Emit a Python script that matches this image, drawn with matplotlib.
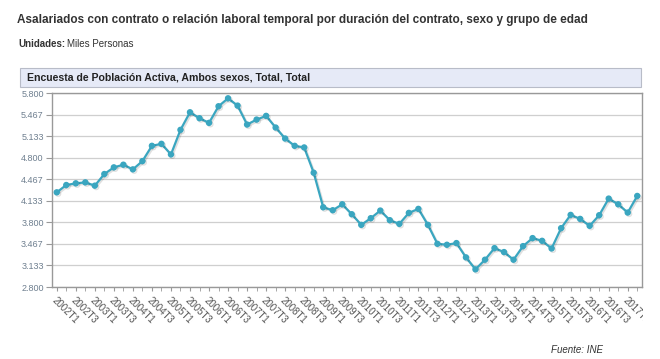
import matplotlib
matplotlib.use("Agg")
import matplotlib.pyplot as plt
import matplotlib.patheffects as pe
from matplotlib.patches import FancyBboxPatch
from matplotlib.transforms import Bbox

plt.rcParams["font.family"] = ["Liberation Sans", "DejaVu Sans"]

# quarterly periods 2002T1 .. 2017T2
periods = [f"{y}T{q}" for y in range(2002, 2018) for q in range(1, 5)][:62]
values = [
    4.264, 4.377, 4.403, 4.418, 4.367, 4.547, 4.650, 4.691, 4.619, 4.747,
    4.983, 5.014, 4.850, 5.230, 5.502, 5.410, 5.338, 5.595, 5.718, 5.605,
    5.312, 5.389, 5.446, 5.266, 5.096, 4.983, 4.958, 4.567, 4.033, 3.987,
    4.079, 3.925, 3.761, 3.864, 3.982, 3.833, 3.776, 3.946, 4.008, 3.761,
    3.468, 3.453, 3.479, 3.258, 3.073, 3.222, 3.401, 3.340, 3.222, 3.432,
    3.556, 3.514, 3.396, 3.710, 3.915, 3.853, 3.746, 3.910, 4.167, 4.079,
    3.951, 4.208,
]
y_ticks = [2.800, 3.133, 3.467, 3.800, 4.133, 4.467, 4.800, 5.133, 5.467, 5.800]
y_labels = ["2.800", "3.133", "3.467", "3.800", "4.133", "4.467", "4.800", "5.133", "5.467", "5.800"]

W, H = 660, 359
fig = plt.figure(figsize=(W / 100, H / 100), dpi=100)
fig.patch.set_facecolor("white")

# axes placed in pixel coords
left, right, top, bottom = 52, 642, 93, 287
ax = fig.add_axes([left / W, 1 - bottom / H, (right - left) / W, (bottom - top) / H])

x = list(range(len(values)))
ax.plot(x, values, color="#3aa6c0", lw=1.6, marker="o", ms=3.6, mec="#3aa6c0", mfc="#3aa6c0",
        zorder=3,
        path_effects=[pe.SimpleLineShadow(offset=(1, -1), shadow_color="#000000", alpha=0.12), pe.Normal()])

ax.set_xlim(-0.5, len(values) - 0.5)
ax.set_ylim(2.8, 5.8)
ax.set_yticks(y_ticks)
ax.set_yticklabels(y_labels)
ax.grid(axis="y", color="#cfcfcf", lw=0.9)
ax.set_axisbelow(True)

ax.set_xticks(x[::2])
ax.set_xticklabels(periods[::2], rotation=-45, ha="left", va="top", rotation_mode="anchor")
ax.set_xticks(x, minor=True)
ax.tick_params(axis="x", which="both", length=3, color="#999999", labelsize=7, labelcolor="#555555", pad=3)
ax.tick_params(axis="y", length=4, color="#999999", labelsize=6.5, labelcolor="#6e7f8f", pad=2)
for s in ax.spines.values():
    s.set_color("#999999")
    s.set_linewidth(1.0)

# labels past the chart frame are cut off, as in the source widget
clip = Bbox.from_extents(0, 0, 643, H)
for lab in ax.get_xticklabels():
    lab.set_clip_on(True)
    lab.set_clip_box(clip)

# titles
fig.text(17 / W, 1 - 20 / H, "Asalariados con contrato o relación laboral temporal por duración del contrato, sexo y grupo de edad",
         fontsize=8.5, fontweight="bold", color="#333333", va="center", ha="left")
fig.text(18 / W, 1 - 44 / H, "Unidades:", fontsize=7, fontweight="bold", color="#333333", va="center", ha="left")
fig.text(67 / W, 1 - 44 / H, "Miles Personas", fontsize=7, color="#333333", va="center", ha="left")

# header box
box = FancyBboxPatch((20 / W, 1 - 87 / H), (641 - 20) / W, 19 / H, boxstyle="square,pad=0",
                     transform=fig.transFigure, facecolor="#e6eaf7", edgecolor="#b8bcc8", lw=0.8)
fig.patches.append(box)
fig.text(27 / W, 1 - 77.5 / H, "Encuesta de Población Activa, Ambos sexos, Total, Total",
         fontsize=7.6, fontweight="bold", color="#222222", va="center", ha="left")

fig.text(551 / W, 1 - 350 / H, "Fuente: INE", fontsize=7, style="italic", color="#333333", va="center", ha="left")

fig.savefig("out.png", dpi=100)
